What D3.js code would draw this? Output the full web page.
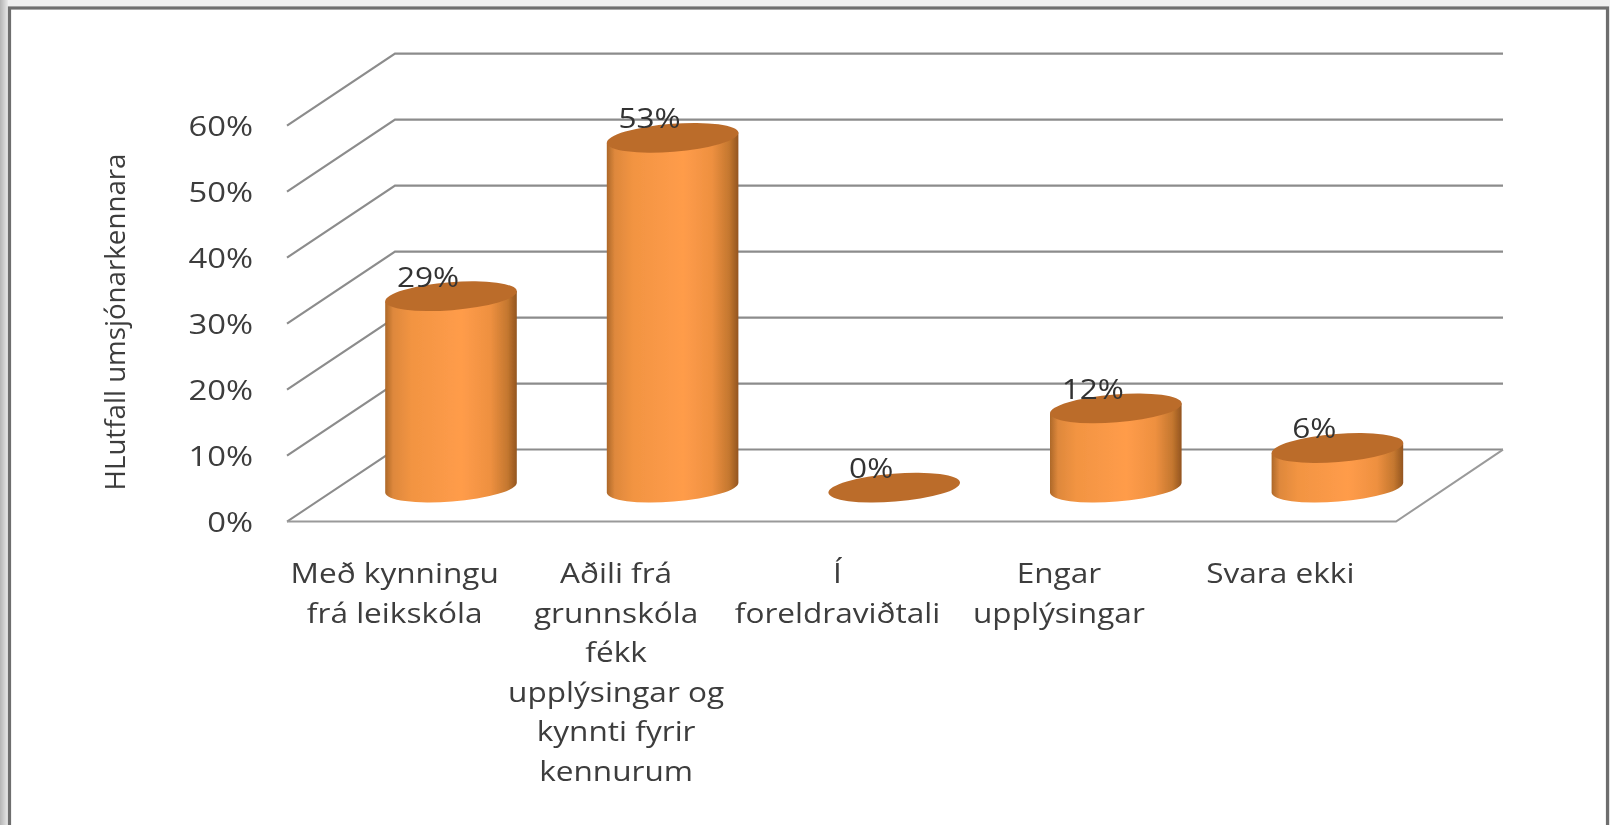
<!DOCTYPE html>
<html><head><meta charset="utf-8">
<style>html,body{margin:0;padding:0;background:#fff;overflow:hidden}svg{display:block}
text{font-family:"Open Sans",sans-serif;fill:#3c3c3c}</style>
<script src="https://cdn.jsdelivr.net/npm/d3@7"></script></head><body>
<script>
const categories=["Með kynningu","Aðili frá","Í","Engar","Svara ekki"];
const categoryLines=[["Með kynningu","frá leikskóla"],["Aðili frá","grunnskóla","fékk","upplýsingar og","kynnti fyrir","kennurum"],["Í","foreldraviðtali"],["Engar","upplýsingar"],["Svara ekki"]];
const values=[29,53,0,12,6];
const valueLabels=["29%","53%","0%","12%","6%"];
const yTicks=[0,10,20,30,40,50,60];
const yTitle="HLutfall umsjónarkennara";

const W=1610,H=825;
const svg=d3.select("body").append("svg").attr("width",W).attr("height",H);
const defs=svg.append("defs");
const soft=defs.append("filter").attr("id","soft").attr("filterUnits","userSpaceOnUse").attr("x",0).attr("y",0).attr("width",W).attr("height",H);
soft.append("feGaussianBlur").attr("stdDeviation",0.7);
const softT=defs.append("filter").attr("id","softT").attr("filterUnits","userSpaceOnUse").attr("x",0).attr("y",0).attr("width",W).attr("height",H);
softT.append("feGaussianBlur").attr("stdDeviation",0.55);
const lg=defs.append("linearGradient").attr("id","leftEdge");
lg.append("stop").attr("offset",0).attr("stop-color","#b4b4b4");
lg.append("stop").attr("offset",1).attr("stop-color","#e8e8e8");
const bodyGrad=defs.append("linearGradient").attr("id","body");
[[0,"#ad6829"],[0.06,"#de883c"],[0.2,"#f29442"],[0.58,"#ff9c4a"],[0.8,"#ee9040"],[0.93,"#c4772f"],[1,"#935520"]]
 .forEach(([o,c])=>bodyGrad.append("stop").attr("offset",o).attr("stop-color",c));

// page frame
svg.append("rect").attr("width",W).attr("height",H).attr("fill","#efefef");
svg.append("rect").attr("width",8).attr("height",H).attr("fill","url(#leftEdge)");
svg.append("rect").attr("x",9.5).attr("y",8).attr("width",W-12).attr("height",H+20).attr("fill","#fff").attr("stroke","#6e6e6e").attr("stroke-width",3.2).attr("filter","url(#soft)");

// scales
const y0=521.6, plotH=396, depthX=108, depthY=72;
const y=d3.scaleLinear().domain([0,60]).range([y0,y0-plotH]);
const xFront=d3.scaleBand().domain(categories).range([287,1396]);
const xBar=d3.scaleBand().domain(categories).range([340.2,1448.2]);
const baseY=y0-34; // centre of the cylinders' base on the floor
const xL=xFront.range()[0],xR=xFront.range()[1];

// walls
const grid=svg.append("g").attr("filter","url(#soft)");
yTicks.forEach(t=>{
  const yy=y(t);
  grid.append("path").attr("fill","none").attr("stroke","#8c8c8c").attr("stroke-width",t===0?2:2.2)
    .attr("d",d3.line()([[xL,yy],[xL+depthX,yy-depthY],[xR+depthX-1,yy-depthY]]));
});
grid.append("path").attr("fill","none").attr("stroke","#9a9a9a").attr("stroke-width",2)
  .attr("d",d3.line()([[xL,y0],[xR,y0],[xR+depthX-1,y0-depthY]]));

// cylinders
const rx=66, ry=14, tiltDeg=-4.5, tilt=tiltDeg*Math.PI/180;
const ex=rx*Math.cos(tilt), ey=rx*Math.sin(tilt);
function ellipsePath(cx,cy){
  return `M${cx-ex},${cy-ey}A${rx},${ry} ${tiltDeg} 1 1 ${cx+ex},${cy+ey}A${rx},${ry} ${tiltDeg} 1 1 ${cx-ex},${cy-ey}Z`;
}
const bars=svg.append("g").attr("filter","url(#soft)");
const h=v=>y(0)-y(v);
values.forEach((v,i)=>{
  const cx=xBar(categories[i])+xBar.bandwidth()/2, top=baseY-h(v);
  if(v>0){
    bars.append("path").attr("fill","url(#body)")
      .attr("d",`M${cx-ex},${top-ey}L${cx-ex},${baseY-ey}A${rx},${ry} ${tiltDeg} 0 0 ${cx+ex},${baseY+ey}L${cx+ex},${top+ey}Z`);
  }
  bars.append("path").attr("fill","#bb6c2c").attr("d",ellipsePath(cx,top));
});

const textG=svg.append("g").attr("filter","url(#softT)");
const sx=1.17;
// value labels
values.forEach((v,i)=>{
  const cx=xBar(categories[i])+xBar.bandwidth()/2, top=baseY-h(v);
  textG.append("text").attr("transform",`translate(${cx-23},${top-19}) scale(${sx},1)`).attr("dy","0.35em").attr("text-anchor","middle")
    .attr("font-size",27).style("fill","#333").text(valueLabels[i]);
});

// y axis
const yAxis=d3.axisLeft(y).tickValues(yTicks).tickSize(0).tickPadding(0).tickFormat(d=>d+"%");
const gy=textG.append("g").attr("transform","translate(253,0)").call(yAxis);
gy.select(".domain").remove();
gy.selectAll("text").attr("font-size",28).attr("font-family","Open Sans").attr("dy","0.35em").attr("x",0).attr("transform",`scale(${sx},1)`);

// x axis
const labelX=d3.scaleBand().domain(categories).range([284,1391]);
const gx=textG.append("g").attr("transform","translate(0,559)")
  .call(d3.axisBottom(labelX).tickSize(0).tickPadding(0));
gx.select(".domain").remove();
gx.selectAll("text").attr("font-size",27).attr("font-family","Open Sans").attr("y",0).attr("dy",null).attr("transform",`scale(${sx},1)`)
  .each(function(d,i){
    const t=d3.select(this).text(null);
    categoryLines[i].forEach((l,k)=>t.append("tspan").attr("x",0).attr("y",k*39.6+24).text(l));
  });

// y title
textG.append("text").attr("transform","translate(116,322) rotate(-90)").attr("text-anchor","middle")
  .attr("dy","0.35em").attr("font-size",27).attr("textLength",337).attr("lengthAdjust","spacingAndGlyphs").text(yTitle);
</script></body></html>
